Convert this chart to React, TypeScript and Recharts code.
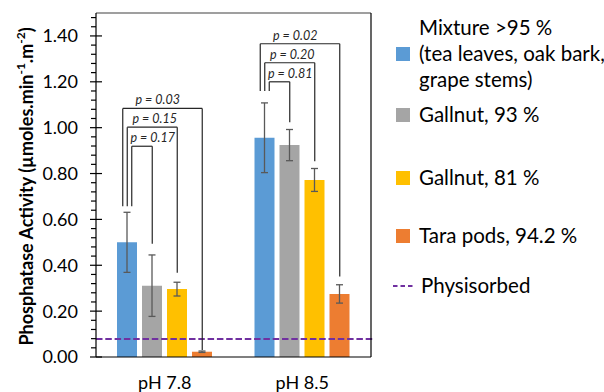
import React from 'react';
import { BarChart, Bar, XAxis, YAxis, ErrorBar, ReferenceLine, ReferenceDot } from 'recharts';

// ---------- data ----------
const categories = ['pH 7.8', 'pH 8.5'];
const mixture = [0.5, 0.956];
const mixtureErr = [0.131, 0.152];
const gallnut93 = [0.311, 0.924];
const gallnut93Err = [0.134, 0.068];
const gallnut81 = [0.296, 0.772];
const gallnut81Err = [0.03, 0.05];
const tara = [0.023, 0.275];
const taraErr = [0.003, 0.04];
const physisorbed = 0.079;

const seriesKeys = ['mixture', 'gallnut93', 'gallnut81', 'tara'];
const seriesNames = [
  'Mixture >95 % (tea leaves, oak bark, grape stems)',
  'Gallnut, 93 %',
  'Gallnut, 81 %',
  'Tara pods, 94.2 %',
];
const legendLines = [
  ['Mixture >95 %', '(tea leaves, oak bark,', 'grape stems)'],
  ['Gallnut, 93 %'],
  ['Gallnut, 81 %'],
  ['Tara pods, 94.2 %'],
];
const physisorbedName = 'Physisorbed';
const colors = ['#5B9BD5', '#A5A5A5', '#FFC000', '#ED7D31'];

const yMax = 1.5;
const yMajorStep = 0.2;
const yMinorStep = 0.04;

// significance brackets (blue bar vs. each other bar), per category
const bracketLabels = [
  ['p = 0.17', 'p = 0.15', 'p = 0.03'],
  ['p = 0.81', 'p = 0.20', 'p = 0.02'],
];
const bracketTops = [
  [0.919, 1.002, 1.084],
  [1.2, 1.283, 1.366],
];
const bracketRightEnds = [
  [0.494, 0.367, 0.03],
  [1.024, 0.854, 0.351],
];
const bracketLeftEnds = [0.657, 1.16];

// ---------- layout ----------
const W = 604;
const H = 392;
const MARGIN = { top: 12, right: 232, bottom: 0, left: 0 };
const Y_AXIS_W = 96;
const X_AXIS_H = 35;
const BAR_SIZE = 20;
const BAR_GAP = 5;
const PLOT_W = W - MARGIN.left - MARGIN.right - Y_AXIS_W - 1;
const SLOT = BAR_SIZE + BAR_GAP; // one unit of the hidden position axis
const CAT_SLOTS = PLOT_W / categories.length / SLOT;
const LEG_OFFSETS = [0.18, 0, -0.18];
const LABEL_OFFSETS = [-0.48, -0.4, -0.28];
const MINOR_TICK = 5 / SLOT;
const MAJOR_TICK = 6 / SLOT;
const FONT = 'Lato, "Open Sans", sans-serif';

const data = categories.map((c, i) => ({
  category: c,
  catIndex: i,
  mixture: mixture[i],
  mixtureErr: mixtureErr[i],
  gallnut93: gallnut93[i],
  gallnut93Err: gallnut93Err[i],
  gallnut81: gallnut81[i],
  gallnut81Err: gallnut81Err[i],
  tara: tara[i],
  taraErr: taraErr[i],
}));

const yTicks: number[] = [];
for (let i = 0; i * yMinorStep < yMax - 1e-9; i++) yTicks.push(Math.round(i * yMinorStep * 100) / 100);
const isMajor = (v: number) => Math.abs(v / yMajorStep - Math.round(v / yMajorStep)) < 1e-6;

const catCenter = (i: number) => (i + 0.5) * CAT_SLOTS;
const barCenter = (i: number, k: number) => catCenter(i) + (k - (seriesKeys.length - 1) / 2);

const YTick = (props: any) => {
  const { x, y, payload } = props;
  const v = payload.value as number;
  if (!isMajor(v)) return <g />;
  return (
    <text x={x - 18} y={y} dy="0.36em" textAnchor="end" fontSize={18} fill="#000" fontFamily={FONT}>
      {v.toFixed(2)}
    </text>
  );
};

const YTitle = (props: any) => {
  const vb = props.viewBox || { x: 0, y: 13, width: Y_AXIS_W, height: 344 };
  const cx = vb.x + 25.5;
  const cy = vb.y + vb.height / 2 + 1.5;
  return (
    <text
      x={cx}
      y={cy}
      transform={`rotate(-90 ${cx} ${cy})`}
      textAnchor="middle"
      dominantBaseline="central"
      fontSize={18}
      fontWeight="bold"
      fill="#000"
      fontFamily={FONT}
    >
      Phosphatase Activity (µmoles.min
      <tspan dy={-6} fontSize={12}>-1</tspan>
      <tspan dy={6}>.m</tspan>
      <tspan dy={-6} fontSize={12}>-2</tspan>
      <tspan dy={6}>)</tspan>
    </text>
  );
};

const lineStyle = { stroke: '#262626', strokeWidth: 1.2 };

export default function App() {
  const bracketEls: React.ReactNode[] = [];
  categories.forEach((_, i) => {
    bracketLabels[i].forEach((label, j) => {
      const lx = barCenter(i, 0) + LEG_OFFSETS[j];
      const rx = barCenter(i, j + 1);
      const top = bracketTops[i][j];
      bracketEls.push(
        <ReferenceLine
          key={`l${i}${j}`}
          xAxisId="pos"
          ifOverflow="visible"
          segment={[{ x: lx, y: bracketLeftEnds[i] }, { x: lx, y: top }]}
          {...lineStyle}
        />,
        <ReferenceLine
          key={`t${i}${j}`}
          xAxisId="pos"
          ifOverflow="visible"
          segment={[{ x: lx, y: top }, { x: rx, y: top }]}
          {...lineStyle}
        />,
        <ReferenceLine
          key={`r${i}${j}`}
          xAxisId="pos"
          ifOverflow="visible"
          segment={[{ x: rx, y: top }, { x: rx, y: bracketRightEnds[i][j] }]}
          {...lineStyle}
        />,
        <ReferenceDot
          key={`d${i}${j}`}
          xAxisId="pos"
          ifOverflow="visible"
          x={catCenter(i) + LABEL_OFFSETS[j]}
          y={top}
          r={0}
          shape={(p: any) => (
            <text
              x={p.cx}
              y={p.cy - 4}
              textAnchor="middle"
              fontSize={12.5}
              fontStyle="italic"
              fill="#262626"
              fontFamily={FONT}
            >
              {label}
            </text>
          )}
        />
      );
    });
  });

  const tickEls = yTicks.map((v) => (
    <ReferenceLine
      key={`tick${v}`}
      xAxisId="pos"
      ifOverflow="visible"
      segment={[
        { x: isMajor(v) ? -MAJOR_TICK : -MINOR_TICK, y: v },
        { x: isMajor(v) ? MAJOR_TICK : 0, y: v },
      ]}
      stroke="#000"
      strokeWidth={1.2}
    />
  ));

  const itemTops = [14, 101, 164, 222];
  const squareLine = [1, 0, 0, 0];

  return (
    <div style={{ position: 'relative', width: W, height: H, overflow: 'hidden', fontFamily: FONT, background: '#fff' }}>
      <style>{'body{margin:0}'}</style>
      <BarChart width={W} height={H} data={data} margin={MARGIN} barSize={BAR_SIZE} barGap={BAR_GAP}>
        <XAxis
          dataKey="category"
          tickLine={false}
          tickSize={0}
          tickMargin={19}
          height={X_AXIS_H}
          axisLine={{ stroke: '#000', strokeWidth: 1.2 }}
          tick={{ fontSize: 18, fill: '#000', fontFamily: FONT }}
        />
        <XAxis
          xAxisId="pos"
          dataKey="catIndex"
          type="number"
          orientation="top"
          domain={[0, CAT_SLOTS * categories.length]}
          allowDataOverflow
          tick={false}
          tickLine={false}
          height={1}
          axisLine={{ stroke: '#404040', strokeWidth: 1.2 }}
        />
        <YAxis
          domain={[0, yMax]}
          allowDataOverflow
          ticks={yTicks}
          interval={0}
          tick={<YTick />}
          tickLine={false}
          tickSize={0}
          tickMargin={0}
          width={Y_AXIS_W}
          axisLine={{ stroke: '#000', strokeWidth: 1.2 }}
          label={<YTitle />}
        />
        <YAxis
          yAxisId="right"
          orientation="right"
          domain={[0, yMax]}
          tick={false}
          tickLine={false}
          width={1}
          axisLine={{ stroke: '#000', strokeWidth: 1.2 }}
        />
        {seriesKeys.map((k, idx) => (
          <Bar key={k} dataKey={k} name={seriesNames[idx]} fill={colors[idx]} isAnimationActive={false}>
            <ErrorBar dataKey={`${k}Err`} width={3.5} stroke="#595959" strokeWidth={1.3} direction="y" />
          </Bar>
        ))}
        <ReferenceLine
          xAxisId="pos"
          ifOverflow="visible"
          segment={[
            { x: 0, y: physisorbed },
            { x: CAT_SLOTS * categories.length + 0.12, y: physisorbed },
          ]}
          stroke="#7030A0"
          strokeWidth={2}
          strokeDasharray="6.5 2.8"
        />
        {tickEls}
        {bracketEls}
      </BarChart>
      {legendLines.map((lines, idx) => (
        <div key={idx} style={{ position: 'absolute', left: 396, top: itemTops[idx] }}>
          <div
            style={{
              position: 'absolute',
              left: 0,
              top: squareLine[idx] * 26 + 7,
              width: 14,
              height: 14,
              background: colors[idx],
            }}
          />
          <div style={{ marginLeft: 23, fontSize: 20.5, lineHeight: '26px', color: '#000', whiteSpace: 'nowrap' }}>
            {lines.map((l, li) => (
              <div key={li}>{l}</div>
            ))}
          </div>
        </div>
      ))}
      <div style={{ position: 'absolute', left: 393, top: 272 }}>
        <svg width={22} height={26} style={{ position: 'absolute', left: 0, top: 0 }}>
          <line x1={0} x2={20} y1={14} y2={14} stroke="#7030A0" strokeWidth={2} strokeDasharray="4.5 3" />
        </svg>
        <div style={{ marginLeft: 28, fontSize: 20.5, lineHeight: '26px', color: '#000', whiteSpace: 'nowrap' }}>
          {physisorbedName}
        </div>
      </div>
    </div>
  );
}
